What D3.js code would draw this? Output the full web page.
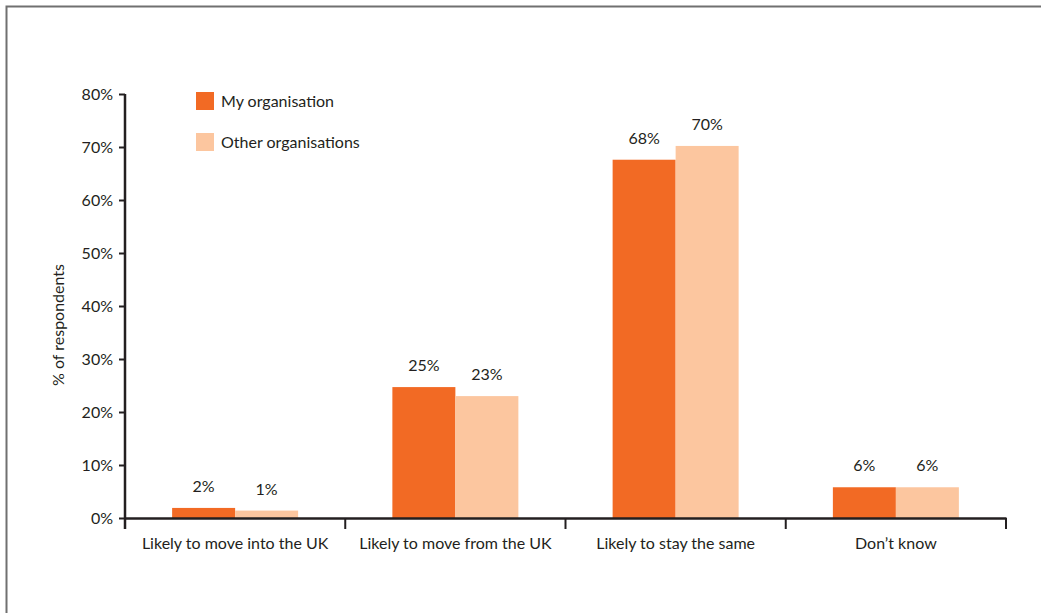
<!DOCTYPE html>
<html>
<head>
<meta charset="utf-8">
<script src="https://cdn.jsdelivr.net/npm/d3@7"></script>
<style>
  body { margin: 0; background: #fff; }
  text { font-family: Lato, "Open Sans", sans-serif; fill: #231f20; }
</style>
</head>
<body>
<div class="graph"></div>
<script>
// data
const categories = ['Likely to move into the UK', 'Likely to move from the UK', 'Likely to stay the same', 'Don\u2019t know']
const seriesNames = ['My organisation', 'Other organisations']
const myOrg = [1.9, 24.7, 67.6, 5.8]
const otherOrgs = [1.4, 23.0, 70.2, 5.8]
const yTicks = [0, 10, 20, 30, 40, 50, 60, 70, 80]

const colours = ['#f26a24', '#fcc69f']

// config
const w = 1041
const h = 613
const x0 = 125, x1 = 1006
const yTop = 94, yBottom = 518

const svg = d3.select('.graph')
    .append('svg')
    .attr('width', w)
    .attr('height', h)

// frame
svg.append('rect')
    .attr('x', 6.5).attr('y', 6.5)
    .attr('width', w + 20).attr('height', h + 20)
    .attr('fill', 'none')
    .attr('stroke', '#707070')
    .attr('stroke-width', 2)

// scales
const xScale = d3.scaleBand()
    .domain(categories)
    .range([x0, x1])

const yScale = d3.scaleLinear()
    .domain([0, 80])
    .range([yBottom, yTop])

const barW = 63

// bars
const rows = categories.map((c, i) => ({ cat: c, vals: [myOrg[i], otherOrgs[i]] }))

const groups = svg.append('g')
    .selectAll('g')
    .data(rows)
    .join('g')
    .attr('transform', d => 'translate(' + (xScale(d.cat) + xScale.bandwidth() / 2 - barW) + ',0)')

groups.selectAll('rect')
    .data(d => d.vals)
    .join('rect')
    .attr('x', (v, j) => j * barW)
    .attr('y', v => yScale(v))
    .attr('width', barW)
    .attr('height', v => yBottom - yScale(v))
    .attr('fill', (v, j) => colours[j])

groups.selectAll('text')
    .data(d => d.vals)
    .join('text')
    .attr('x', (v, j) => j * barW + barW / 2)
    .attr('y', v => yScale(v) - 16)
    .attr('text-anchor', 'middle')
    .attr('font-size', 16)
    .text(v => Math.round(v) + '%')

// axes
const yAxis = d3.axisLeft(yScale)
    .tickValues(yTicks)
    .tickSize(6)
    .tickSizeOuter(0)
    .tickFormat(d => d + '%')

const xAxis = d3.axisBottom(xScale)
    .tickSize(0)
    .tickSizeOuter(0)

const ya = svg.append('g')
    .attr('transform', 'translate(' + x0 + ',0)')
    .call(yAxis)
ya.select('.domain')
    .attr('d', 'M0,' + yTop + 'V' + (yBottom + 11))
ya.selectAll('line').attr('stroke-width', 2)
ya.selectAll('text')
    .attr('font-size', 16)
    .attr('x', -12)
    .style('font-family', 'Lato, sans-serif')
    .attr('fill', '#231f20')

const xa = svg.append('g')
    .attr('transform', 'translate(0,' + yBottom + ')')
    .call(xAxis)
xa.selectAll('text')
    .attr('font-size', 16)
    .attr('y', 20)
    .style('font-family', 'Lato, sans-serif')
    .attr('fill', '#231f20')

// category separators
xa.selectAll('line.sep')
    .data(categories)
    .join('line')
    .attr('class', 'sep')
    .attr('x1', d => xScale(d) + xScale.bandwidth())
    .attr('x2', d => xScale(d) + xScale.bandwidth())
    .attr('y1', 0).attr('y2', 11)
    .attr('stroke', '#231f20')
    .attr('stroke-width', 2)

svg.selectAll('.domain').attr('stroke', '#231f20').attr('stroke-width', 2.5)
svg.selectAll('.tick line').attr('stroke', '#231f20')

// y title
svg.append('text')
    .attr('transform', 'translate(64,325) rotate(-90)')
    .attr('text-anchor', 'middle')
    .attr('font-size', 16)
    .text('% of respondents')

// legend
const legend = svg.append('g')
    .selectAll('g')
    .data(seriesNames)
    .join('g')
    .attr('transform', (d, i) => 'translate(196,' + (92 + i * 41) + ')')

legend.append('rect')
    .attr('width', 18).attr('height', 18)
    .attr('fill', (d, i) => colours[i])

legend.append('text')
    .attr('x', 25).attr('y', 15)
    .attr('font-size', 16)
    .text(d => d)
</script>
</body>
</html>
